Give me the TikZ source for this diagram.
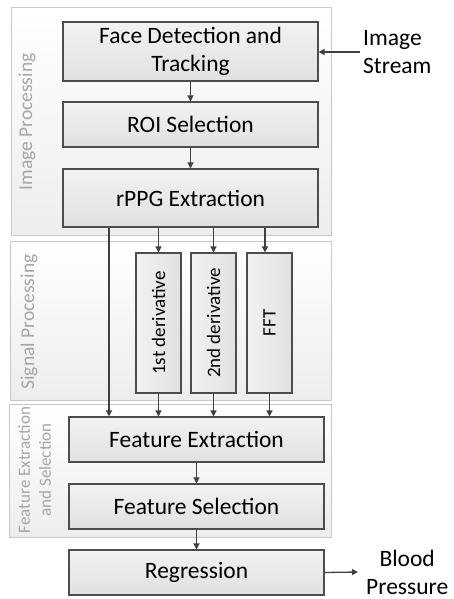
\documentclass[tikz,border=0pt]{standalone}
\usepackage{fontspec}
\setmainfont{Carlito}
\usepackage{tikz}
\usetikzlibrary{positioning, arrows.meta, calc}
\definecolor{boxline}{HTML}{4D4D4D}
\definecolor{arrowcol}{HTML}{404040}
\definecolor{groupline}{HTML}{C8C8C8}
\definecolor{labelgray}{HTML}{A6A6A6}
\tikzset{
	grouptext/.style={font=\fontsize{19.5}{21}\selectfont\color{labelgray}}
}
\tikzset{
	plaintext/.style={font=\fontsize{23.5}{28}\selectfont}
}

\begin{document}
\begin{tikzpicture}[x=1pt, y=-1pt]

      \tikzset{
        groupbox/.style={
            shape=rectangle,
            draw=groupline,
            line width=0.9pt,
            top color=white,
            bottom color=black!7,
            inner sep=0pt
          },
        stagebox/.style={
            shape=rectangle,
            draw=boxline,
            line width=1.1pt,
            top color=black!5,
            bottom color=black!12,
            minimum width=255pt,
            inner sep=0pt,
            align=center,
            plaintext
          },
        derivbox/.style={
            shape=rectangle,
            draw=boxline,
            line width=1.1pt,
            left color=black!5,
            right color=black!12,
            minimum width=45pt,
            minimum height=140pt,
            inner sep=0pt,
            font=\fontsize{19}{21}\selectfont
          },
        arr/.style={
            draw=arrowcol,
            line width=1.3pt,
            -{Triangle[length=6pt, width=6pt]}
          }
      }

      \useasboundingbox (0,0) rectangle (453,599);

      % groups
      \node[groupbox, minimum width=320pt, minimum height=228pt] (gimg) at (171,121) {};
      \node[groupbox, minimum width=321pt, minimum height=159pt] (gsig) at (170.5,320.5) {};
      \node[groupbox, minimum width=322pt, minimum height=133pt] (gfeat) at (170,470.5) {};

      \node[grouptext, rotate=90] (lblimg) at (27,122) {Image Processing};
      \node[grouptext, rotate=90] (lblsig) at (29,322) {Signal Processing};
      \node[grouptext, rotate=90, align=center, font=\fontsize{17}{21}\selectfont\color{labelgray}]
        (lblfeat) at (34.5,470) {Feature Extraction\\and Selection};

      % stages
      \node[stagebox, minimum height=59pt] (face) at (190.5,51.5) {Face Detection and\\Tracking};
      \node[stagebox, minimum height=45pt] (roi) at (190.5,124.5) {ROI Selection};
      \node[stagebox, minimum height=58pt] (rppg) at (190.5,198) {rPPG Extraction};

      \node[derivbox] (first) at (158.5,323) {\rotatebox{90}{1st derivative}};
      \node[derivbox] (second) at (213.5,323) {\rotatebox{90}{2nd derivative}};
      \node[derivbox] (fft) at (269.5,323) {\rotatebox{90}{FFT}};

      \node[stagebox, minimum height=45pt] (featext) at (196.5,439.5) {Feature Extraction};
      \node[stagebox, minimum height=45pt] (featsel) at (196.5,506.5) {Feature Selection};
      \node[stagebox, minimum height=45pt] (regr) at (196.5,572.5) {Regression};

      \node[plaintext, anchor=west, align=left, inner xsep=3pt] (stream) at (360,52) {Image\\Stream};
      \node[plaintext, anchor=west, align=center, inner xsep=8pt] (bp) at (358,572) {Blood\\Pressure};

      \coordinate (tap) at (109,0);

      \draw[arr] (stream.west) -- (face.east |- stream.west);
      \draw[arr] (face) -- (roi);
      \draw[arr] (roi) -- (rppg);
      \draw[arr] (rppg.south -| first.north) -- (first.north);
      \draw[arr] (rppg.south -| second.north) -- (second.north);
      \draw[arr] ([xshift=-4.5pt]fft.north |- rppg.south) -- ([xshift=-4.5pt]fft.north);
      \draw[arr] (rppg.south -| tap) -- (featext.north -| tap);
      \draw[arr] (first.south) -- (featext.north -| first.south);
      \draw[arr] (second.south) -- (featext.north -| second.south);
      \draw[arr] (fft.south) -- (featext.north -| fft.south);
      \draw[arr] (featext) -- (featsel);
      \draw[arr] (featsel) -- (regr);
      \draw[arr] (regr.east) -- (bp.west);
    \end{tikzpicture}
\end{document}
